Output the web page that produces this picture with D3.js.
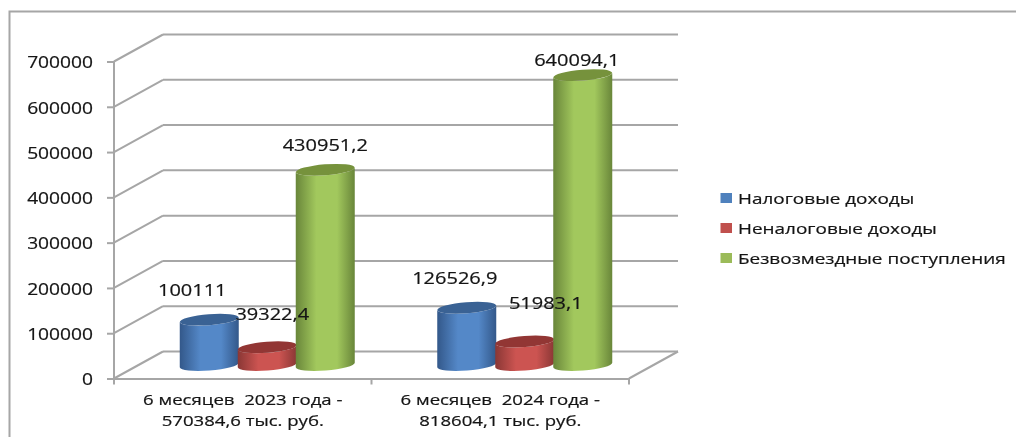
<!DOCTYPE html>
<html>
<head>
<meta charset="utf-8">
<script src="https://cdn.jsdelivr.net/npm/d3@7"></script>
<style>
  html, body { margin: 0; padding: 0; background: #fff; }
  svg { display: block; filter: blur(0.3px); }
  text { font-family: "Open Sans", sans-serif; font-size: 15px; fill: #141414; stroke: #141414; stroke-width: 0.2px; white-space: pre; }
</style>
</head>
<body>
<svg width="1016" height="437"></svg>
<script>
// data
const categories = ["6 месяцев  2023 года -|570384,6 тыс. руб.", "6 месяцев  2024 года -|818604,1 тыс. руб."]
const seriesNames = ["Налоговые доходы", "Неналоговые доходы", "Безвозмездные поступления"]
const values2023 = [100111, 39322.4, 430951.2]
const values2024 = [126526.9, 51983.1, 640094.1]
const yTicks = [0, 100000, 200000, 300000, 400000, 500000, 600000, 700000]

// colours per series: edge, middle, lid
const colors = [
  { edge: "#33588a", mid: "#5488c8", top: "#3a6294", key: "#4f81bd" },
  { edge: "#8a3735", mid: "#cc5451", top: "#923634", key: "#c0504d" },
  { edge: "#69863a", mid: "#a2c85d", top: "#76923c", key: "#9bbb59" }
]

// label nudges (dx, dy from the lid centre), same order as the values
const labelShift = [
  [[-17, -30], [5, -33], [0, -25]],
  [[-12, -30], [21, -39], [-6, -15]]
]

const depthX = 49
const depthY = -27
const lineColor = "#a6a6a6"
const lineWidth = 2

const svg = d3.select("svg")

// outer frame, cut off by the bottom of the picture
svg.append("path")
  .attr("d", "M9.5,437V11.5H1016")
  .attr("fill", "none")
  .attr("stroke", lineColor)
  .attr("stroke-width", lineWidth)

const x0 = d3.scaleBand().domain(categories).range([114, 629])
const x1 = d3.scaleBand().domain(seriesNames).range([-87, 87])
const y = d3.scaleLinear().domain([0, 700000]).range([378.5, 61.5])

// gradients
const defs = svg.append("defs")
colors.forEach((c, i) => {
  const g = defs.append("linearGradient").attr("id", "cyl" + i)
  g.append("stop").attr("offset", "0%").attr("stop-color", c.edge)
  g.append("stop").attr("offset", "35%").attr("stop-color", c.mid)
  g.append("stop").attr("offset", "70%").attr("stop-color", c.mid)
  g.append("stop").attr("offset", "100%").attr("stop-color", c.edge)
})

function stretch(sel, px, py, sx) {
  sel.attr("transform", `translate(${px},${py}) scale(${sx},1)`)
}

// walls and floor
const wall = svg.append("g")
  .attr("fill", "none")
  .attr("stroke", lineColor)
  .attr("stroke-width", lineWidth)

wall.selectAll(".back").data(yTicks).join("line")
  .attr("x1", x0.range()[0] + depthX).attr("x2", x0.range()[1] + depthX)
  .attr("y1", d => y(d) + depthY).attr("y2", d => y(d) + depthY)

wall.selectAll(".side").data(yTicks).join("path")
  .attr("d", d => `M${x0.range()[0]},${y(d)}l${depthX},${depthY}`)

wall.append("path")
  .attr("d", `M${x0.range()[1]},${y(0)}l${depthX},${depthY}`)

// y axis
const yAxis = svg.append("g")
  .attr("transform", `translate(${x0.range()[0]},0)`)
  .call(d3.axisLeft(y).tickValues(yTicks).tickFormat(d3.format("d")).tickSize(7).tickPadding(0))
yAxis.selectAll("path, line").attr("stroke", lineColor).attr("stroke-width", lineWidth)
yAxis.select(".domain").attr("d", `M0,${y(700000)}V${y(0)}`)
yAxis.selectAll("text")
  .attr("x", 0).attr("dy", null).attr("y", 0)
  .attr("dominant-baseline", "central")
  .style("font-size", "15.5px")
  .call(stretch, -21, 0, 1.24)

// x axis
const xAxis = svg.append("g")
  .attr("transform", `translate(0,${y(0)})`)
  .call(d3.axisBottom(x0).tickValues([]).tickSizeOuter(0))
xAxis.select(".domain").attr("stroke", lineColor).attr("stroke-width", lineWidth)
xAxis.selectAll(".tk").data([0, 1, 2]).join("line")
  .attr("x1", i => x0.range()[0] + i * x0.step())
  .attr("x2", i => x0.range()[0] + i * x0.step())
  .attr("y1", 0).attr("y2", 6)
  .attr("stroke", lineColor).attr("stroke-width", lineWidth)

categories.forEach(cat => {
  cat.split("|").forEach((line, i) => {
    svg.append("text")
      .attr("text-anchor", "middle")
      .text(line)
      .call(stretch, x0(cat) + x0.bandwidth() / 2, 405 + i * 21, 1.24)
  })
})

// cylinders
const rows = [values2023, values2024]
const rx = 29.5
const ry = 5.5
const tilt = -4.5
const lift = Math.sin(tilt * Math.PI / 180) * rx

rows.forEach((vals, r) => {
  const cat = categories[r]
  seriesNames.forEach((name, s) => {
    const cx = x0(cat) + x0.bandwidth() / 2 + x1(name) + x1.bandwidth() / 2 + depthX / 2
    const base = y(0) + depthY / 2
    const top = y(vals[s]) + depthY / 2
    const g = svg.append("g")
    g.append("path")
      .attr("d", `M${cx - rx},${top - lift}` +
        `L${cx - rx},${base - lift}` +
        `A${rx},${ry} ${tilt} 0 0 ${cx + rx},${base + lift}` +
        `L${cx + rx},${top + lift}` +
        `A${rx},${ry} ${tilt} 0 1 ${cx - rx},${top - lift}Z`)
      .attr("fill", `url(#cyl${s})`)
    g.append("ellipse")
      .attr("rx", rx).attr("ry", ry)
      .attr("transform", `translate(${cx},${top}) rotate(${tilt})`)
      .attr("fill", colors[s].top)
  })
})

// value labels, on top of all the bars
rows.forEach((vals, r) => {
  const cat = categories[r]
  seriesNames.forEach((name, s) => {
    const cx = x0(cat) + x0.bandwidth() / 2 + x1(name) + x1.bandwidth() / 2 + depthX / 2
    const top = y(vals[s]) + depthY / 2
    svg.append("text")
      .attr("text-anchor", "middle")
      .attr("dominant-baseline", "central")
      .style("font-size", "15.5px")
      .text(String(vals[s]).replace(".", ","))
      .call(stretch, cx + labelShift[r][s][0], top + labelShift[r][s][1], 1.29)
  })
})

// legend
const legendY = d3.scalePoint().domain(seriesNames).range([198, 258])
seriesNames.forEach((name, s) => {
  svg.append("rect")
    .attr("x", 720.5).attr("y", legendY(name) - 5)
    .attr("width", 11.5).attr("height", 10)
    .attr("fill", colors[s].key)
  svg.append("text")
    .attr("dominant-baseline", "central")
    .text(name)
    .call(stretch, 738, legendY(name), 1.263)
})
</script>
</body>
</html>
